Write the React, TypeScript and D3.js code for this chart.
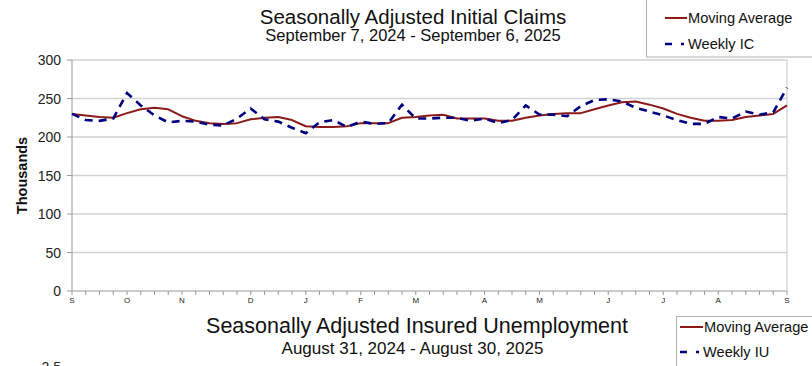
import React from "react";
import * as d3 from "d3";

const weeks: number[] = d3.range(53);
const weeklyIC: number[] = [
  230, 222, 221, 224, 257, 241, 228, 219, 221, 220, 216, 215, 224, 237, 223, 220, 212, 205, 219, 222,
  213, 220, 217, 218, 242, 224, 224, 225, 225, 221, 224, 218, 222, 241, 229, 229, 227, 240, 248, 249,
  246, 238, 233, 228, 222, 217, 217, 226, 224, 233, 229, 232, 264,
];
const movingAvg: number[] = [
  230, 228, 226, 225, 231, 236, 238, 236, 227, 221, 218, 217, 218, 223, 225, 226, 222, 214, 213, 213,
  214, 218, 218, 218, 225, 226, 228, 229, 224, 224, 224, 221, 221, 225, 228, 230, 231, 231, 236, 241,
  245, 246, 242, 237, 230, 225, 221, 221, 222, 226, 228, 230, 241,
];
const monthTicks: number[] = [0, 4, 8, 13, 17, 21, 25, 30, 34, 39, 43, 47, 52];
const monthLabels: string[] = ["S", "O", "N", "D", "J", "F", "M", "A", "M", "J", "J", "A", "S"];
const yTicks: number[] = [0, 50, 100, 150, 200, 250, 300];

const FONT = "'Liberation Sans', Arial, sans-serif";

export default function App() {
  const x = d3.scaleLinear().domain([0, 52]).range([72, 787]);
  const y = d3.scaleLinear().domain([0, 300]).range([291, 60]);
  const lineGen = d3
    .line<number>()
    .x((_, i) => x(weeks[i]))
    .y((d) => y(d));

  return (
    <svg
      width={812}
      height={366}
      style={{ position: "absolute", left: 0, top: 0, background: "#fff" }}
      fontFamily={FONT}
    >
      <rect x={0} y={0} width={812} height={366} fill="#fff" />
      {/* Titles */}
      <text x={413} y={23.5} textAnchor="middle" fontSize={20.5} fill="#111">
        Seasonally Adjusted Initial Claims
      </text>
      <text x={413} y={41} textAnchor="middle" fontSize={16.5} fill="#111">
        September 7, 2024 - September 6, 2025
      </text>

      {/* Legend 1 */}
      <rect x={646.5} y={-2} width={200} height={59} fill="#fff" stroke="#b0b0b0" strokeWidth={1} />
      <line x1={665} x2={687} y1={18} y2={18} stroke="#8b1a1a" strokeWidth={2} />
      <text x={688} y={23} fontSize={14.6} fill="#111">Moving Average</text>
      <line x1={665} x2={684} y1={44} y2={44} stroke="#000080" strokeWidth={2.5} strokeDasharray="7,9" />
      <text x={688} y={49} fontSize={14.6} fill="#111">Weekly IC</text>

      {/* Grid */}
      {yTicks.map((t) => (
        <line key={"g" + t} x1={72} x2={787} y1={y(t)} y2={y(t)} stroke={t === 0 ? "#999" : "#d2d2d2"} strokeWidth={t === 0 ? 1 : 1.3} />
      ))}
      <line x1={787} x2={787} y1={60} y2={291} stroke="#d2d2d2" strokeWidth={1.3} />
      {/* Y axis */}
      <line x1={72} x2={72} y1={60} y2={291} stroke="#999" strokeWidth={1} />
      {yTicks.map((t) => (
        <g key={"y" + t}>
          <line x1={67} x2={72} y1={y(t)} y2={y(t)} stroke="#999" />
          <text x={61} y={y(t) + 5} textAnchor="end" fontSize={14} fill="#222">{t}</text>
        </g>
      ))}
      <text
        transform={`translate(27,${y(150)}) rotate(-90)`}
        textAnchor="middle"
        fontSize={14.5}
        fontWeight="bold"
        fill="#111"
      >
        Thousands
      </text>
      {/* X axis ticks */}
      {weeks.map((w) => (
        <line key={"xt" + w} x1={x(w)} x2={x(w)} y1={291} y2={295} stroke="#999" />
      ))}
      {monthTicks.map((w, i) => (
        <text key={"xl" + i} x={x(w)} y={303} textAnchor="middle" fontSize={8} fill="#222">
          {monthLabels[i]}
        </text>
      ))}

      {/* Series */}
      <path d={lineGen(movingAvg) || ""} fill="none" stroke="#8b1a1a" strokeWidth={2} strokeLinejoin="round" />
      <path d={lineGen(weeklyIC) || ""} fill="none" stroke="#000080" strokeWidth={2.6} strokeDasharray="8,6" />

      {/* Second chart header */}
      <text x={417} y={333} textAnchor="middle" fontSize={21.5} fill="#111">
        Seasonally Adjusted Insured Unemployment
      </text>
      <text x={412.5} y={354} textAnchor="middle" fontSize={17} fill="#111">
        August 31, 2024 - August 30, 2025
      </text>
      <rect x={676.5} y={316.5} width={200} height={70} fill="#fff" stroke="#b0b0b0" strokeWidth={1} />
      <line x1={680} x2={703} y1={327} y2={327} stroke="#8b1a1a" strokeWidth={2} />
      <text x={704} y={332} fontSize={14.6} fill="#111">Moving Average</text>
      <line x1={680} x2={699} y1={352} y2={352} stroke="#000080" strokeWidth={2.5} strokeDasharray="7,9" />
      <text x={703} y={357} fontSize={14.6} fill="#111">Weekly IU</text>
      <text x={61} y={372} textAnchor="end" fontSize={14} fill="#222">2.5</text>
    </svg>
  );
}
